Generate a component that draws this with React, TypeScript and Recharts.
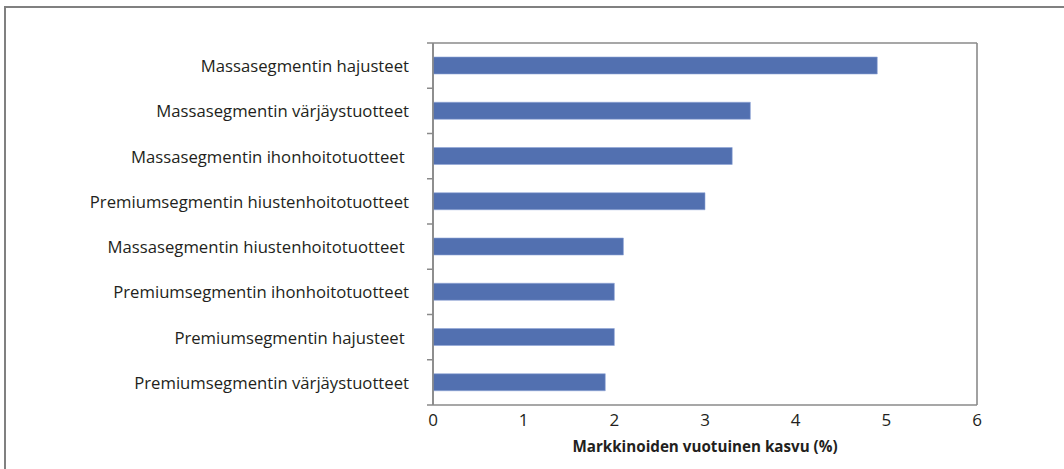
import { Bar, BarChart, CartesianGrid, XAxis, YAxis } from 'recharts'

const categories = [
  'Massasegmentin hajusteet',
  'Massasegmentin värjäystuotteet',
  'Massasegmentin ihonhoitotuotteet ',
  'Premiumsegmentin hiustenhoitotuotteet',
  'Massasegmentin hiustenhoitotuotteet ',
  'Premiumsegmentin ihonhoitotuotteet',
  'Premiumsegmentin hajusteet ',
  'Premiumsegmentin värjäystuotteet',
]
const growth = [4.9, 3.5, 3.3, 3.0, 2.1, 2.0, 2.0, 1.9]
const xTicks = [0, 1, 2, 3, 4, 5, 6]
const axisTitle = 'Markkinoiden vuotuinen kasvu (%)'

const data = categories.map((name, i) => ({ name, value: growth[i] }))

const W = 1064
const H = 469
const TOP = 43
const BOTTOM_AXIS = 64
const LEFT = 433
const RIGHT = 87
const GRID = '#8a8a8a'
const TEXT = '#231f20'
const FONT = '"Open Sans", sans-serif'
const band = (H - TOP - BOTTOM_AXIS) / categories.length

function CategoryTick(props: any) {
  const { y, payload, index } = props
  return (
    <g>
      <line x1={LEFT - 6} x2={LEFT} y1={y - band / 2} y2={y - band / 2} stroke={GRID} strokeWidth={1.5} />
      {index === categories.length - 1 && (
        <line x1={LEFT - 6} x2={LEFT} y1={y + band / 2} y2={y + band / 2} stroke={GRID} strokeWidth={1.5} />
      )}
      <text
        x={LEFT - 24}
        y={y}
        textAnchor="end"
        dominantBaseline="central"
        fill={TEXT}
        fontSize={16.7}
        fontFamily={FONT}
        style={{ whiteSpace: 'pre' }}
      >
        {payload.value}
      </text>
    </g>
  )
}

export default function App() {
  return (
    <div style={{ position: 'absolute', left: 0, top: 0, width: W, height: H, background: '#fff', overflow: 'hidden' }}>
      <div
        style={{
          position: 'absolute',
          left: 4,
          top: 6,
          width: W,
          height: H,
          borderLeft: '2px solid #808080',
          borderTop: '2px solid #808080',
        }}
      />
      <div style={{ position: 'absolute', left: 0, top: 0 }}>
        <BarChart
          width={W}
          height={H}
          data={data}
          layout="vertical"
          barSize={17}
          margin={{ top: TOP - 7, right: RIGHT, bottom: 0, left: 0 }}
        >
          <CartesianGrid horizontal={false} stroke={GRID} strokeWidth={1.6} />
          <XAxis
            xAxisId="top"
            orientation="top"
            type="number"
            domain={[0, 6]}
            allowDataOverflow
            ticks={xTicks}
            height={7}
            tickSize={7}
            tick={false}
            axisLine={{ stroke: GRID, strokeWidth: 1.6 }}
            tickLine={{ stroke: GRID, strokeWidth: 1.6 }}
          />
          <XAxis
            xAxisId="bottom"
            type="number"
            domain={[0, 6]}
            ticks={xTicks}
            height={BOTTOM_AXIS}
            tickSize={0}
            tickMargin={9}
            tick={{ fill: TEXT, fontSize: 17, fontFamily: FONT }}
            axisLine={{ stroke: GRID, strokeWidth: 1.6 }}
            tickLine={false}
            label={{
              value: axisTitle,
              position: 'insideBottom',
              offset: 17,
              fill: TEXT,
              fontSize: 15.2,
              fontWeight: 700,
              fontFamily: FONT,
            }}
          />
          <YAxis
            type="category"
            dataKey="name"
            width={LEFT}
            interval={0}
            tickLine={false}
            tick={<CategoryTick />}
            axisLine={{ stroke: GRID, strokeWidth: 1.6 }}
          />
          <Bar
            dataKey="value"
            xAxisId="bottom"
            fill="#5270b0"
            stroke="#8fa5d6"
            strokeWidth={0.6}
            isAnimationActive={false}
          />
        </BarChart>
      </div>
    </div>
  )
}
